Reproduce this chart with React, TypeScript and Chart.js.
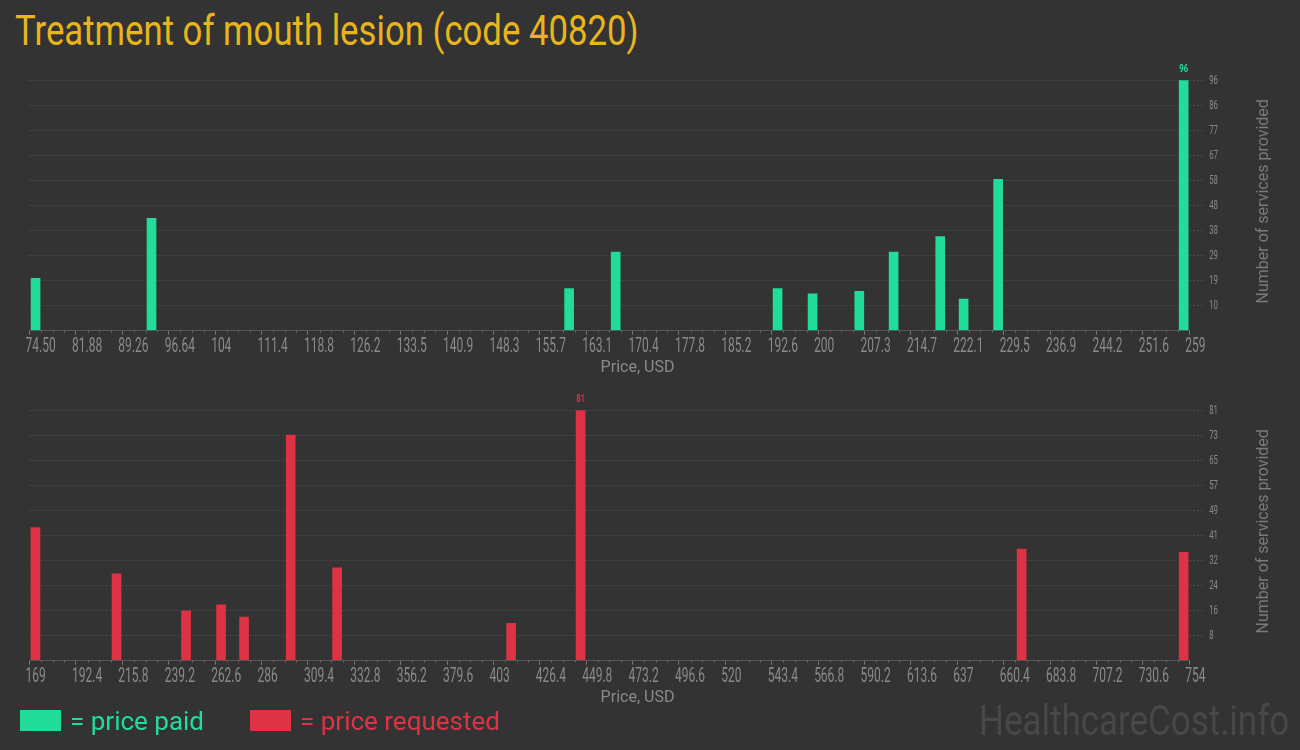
import React, { useEffect, useRef } from "react";
import { Chart, registerables } from "chart.js";

Chart.register(...registerables);

// ---------- data ----------
const paidPrices = [75.45, 93.9, 160.34, 167.75, 193.51, 199.08, 206.51, 211.97, 219.39, 223.11, 228.6, 258.12];
const paidCounts = [20, 43, 16, 30, 16, 14, 15, 30, 36, 12, 58, 96];

const requestedPrices = [171.95, 212.87, 247.93, 265.59, 277.19, 300.71, 324.12, 411.91, 446.97, 669.47, 751.2];
const requestedCounts = [43, 28, 16, 18, 14, 73, 30, 12, 81, 36, 35];

const paidXTickLabels = [
  "74.50", "81.88", "89.26", "96.64", "104", "111.4", "118.8", "126.2", "133.5", "140.9",
  "148.3", "155.7", "163.1", "170.4", "177.8", "185.2", "192.6", "200", "207.3", "214.7",
  "222.1", "229.5", "236.9", "244.2", "251.6", "259",
];
const requestedXTickLabels = [
  "169", "192.4", "215.8", "239.2", "262.6", "286", "309.4", "332.8", "356.2", "379.6",
  "403", "426.4", "449.8", "473.2", "496.6", "520", "543.4", "566.8", "590.2", "613.6",
  "637", "660.4", "683.8", "707.2", "730.6", "754",
];
const paidYTickLabels = ["10", "19", "29", "38", "48", "58", "67", "77", "86", "96"];
const requestedYTickLabels = ["8", "16", "24", "32", "41", "49", "57", "65", "73", "81"];

const TITLE = "Treatment of mouth lesion (code 40820)";
const X_TITLE = "Price, USD";
const Y_TITLE = "Number of services provided";
const LEGEND_PAID = "= price paid";
const LEGEND_REQUESTED = "= price requested";
const WATERMARK = "HealthcareCost.info";

// ---------- styles ----------
const BG = "#333333";
const GREEN = "#22dc9a";
const RED = "#dd3344";
const GOLD = "#e8b51d";
const GRID = "#4b4b4b";
const TICK_TEXT = "#8a8a8a";
const AXIS_TITLE = "#7a7a7a";
const FONT = "Roboto, 'Noto Sans', sans-serif";

const W = 1300;
const AREA_LEFT = 29.6;
const AREA_RIGHT = 1189.2;

function drawScaled(
  ctx: CanvasRenderingContext2D,
  text: string,
  x: number,
  y: number,
  font: string,
  sx: number,
  color: string,
  align: CanvasTextAlign
) {
  ctx.save();
  ctx.translate(x, y);
  ctx.scale(sx, 1);
  ctx.font = font;
  ctx.fillStyle = color;
  ctx.textAlign = align;
  ctx.textBaseline = "alphabetic";
  ctx.fillText(text, 0, 0);
  ctx.restore();
}

type Spec = {
  prices: number[];
  counts: number[];
  xLabels: string[];
  yLabels: string[];
  color: string;
  canvasTop: number;
  canvasH: number;
  areaTop: number; // page coords
  axisY: number; // page coords
};

function makeChart(canvas: HTMLCanvasElement, s: Spec) {
  const xMin = parseFloat(s.xLabels[0]);
  const xMax = parseFloat(s.xLabels[s.xLabels.length - 1]);
  const yMax = parseFloat(s.yLabels[s.yLabels.length - 1]);
  const yStep = yMax / s.yLabels.length;
  const localAreaTop = s.areaTop - s.canvasTop;
  const localAxisY = s.axisY - s.canvasTop;

  const textPlugin = {
    id: "customText",
    afterDraw(chart: any) {
      const ctx: CanvasRenderingContext2D = chart.ctx;
      const xs = chart.scales.x;
      const ys = chart.scales.y;
      const area = chart.chartArea;
      ctx.save();
      // minor ticks
      ctx.strokeStyle = "#666";
      ctx.lineWidth = 1;
      const t = xs.ticks;
      for (let i = 0; i < t.length - 1; i++) {
        const a = xs.getPixelForValue(t[i].value);
        const b = xs.getPixelForValue(t[i + 1].value);
        for (let k = 1; k < 4; k++) {
          const px = Math.round(a + ((b - a) * k) / 4) + 0.5;
          ctx.beginPath();
          ctx.moveTo(px, Math.round(area.bottom));
          ctx.lineTo(px, Math.round(area.bottom) + 2.5);
          ctx.stroke();
        }
      }
      // x tick labels
      t.forEach((tk: any, i: number) => {
        const px = xs.getPixelForValue(tk.value);
        drawScaled(ctx, s.xLabels[i], px - 4, area.bottom + 22, `20px ${FONT}`, 0.6, TICK_TEXT, "left");
      });
      // y tick labels
      ys.ticks.forEach((tk: any, i: number) => {
        if (i === 0) return;
        const py = ys.getPixelForValue(tk.value);
        drawScaled(ctx, s.yLabels[i - 1], area.right + 20, py + 3.8, `12px ${FONT}`, 0.65, TICK_TEXT, "left");
      });
      // x title
      ctx.font = `16px ${FONT}`;
      ctx.fillStyle = TICK_TEXT;
      ctx.textAlign = "center";
      ctx.textBaseline = "alphabetic";
      ctx.fillText(X_TITLE, 637.5, area.bottom + 42);
      // y title
      ctx.save();
      ctx.translate(1268, (area.top + area.bottom) / 2 - 4);
      ctx.rotate(-Math.PI / 2);
      ctx.font = `16px ${FONT}`;
      ctx.fillStyle = AXIS_TITLE;
      ctx.textAlign = "center";
      ctx.textBaseline = "alphabetic";
      ctx.fillText(Y_TITLE, 0, 0);
      ctx.restore();
      // max value label
      let mi = 0;
      s.counts.forEach((c, i) => {
        if (c > s.counts[mi]) mi = i;
      });
      const bx = xs.getPixelForValue(s.prices[mi]);
      const by = ys.getPixelForValue(s.counts[mi]);
      drawScaled(ctx, String(s.counts[mi]), bx, by - 8.6, `bold 11px ${FONT}`, 0.7, s.color, "center");
      ctx.restore();
    },
  };

  return new Chart(canvas, {
    type: "bar",
    data: {
      datasets: [
        {
          data: s.prices.map((p, i) => ({ x: p, y: s.counts[i] })),
          backgroundColor: s.color,
          borderWidth: 0,
          barThickness: 9,
        },
      ],
    },
    options: {
      responsive: false,
      animation: false,
      events: [],
      layout: { padding: { left: AREA_LEFT, top: localAreaTop, right: 0, bottom: 0 } },
      plugins: { legend: { display: false }, tooltip: { enabled: false } },
      scales: {
        x: {
          type: "linear",
          position: "bottom",
          min: xMin,
          max: xMax,
          offset: false,
          afterBuildTicks: (sc: any) => {
            sc.ticks = s.xLabels.map((_, i) => ({
              value: xMin + ((xMax - xMin) * i) / (s.xLabels.length - 1),
            }));
          },
          afterFit: (sc: any) => {
            sc.height = s.canvasH - localAxisY;
          },
          ticks: { display: false, autoSkip: false },
          grid: {
            drawOnChartArea: false,
            drawTicks: true,
            tickLength: 4.5,
            tickColor: "#777",
            offset: false,
          },
          border: { display: true, color: "#555", width: 1 },
        },
        y: {
          type: "linear",
          position: "right",
          min: 0,
          max: yMax,
          afterBuildTicks: (sc: any) => {
            sc.ticks = [0, ...s.yLabels.map((_, i) => yStep * (i + 1))].map((v) => ({ value: v }));
          },
          afterFit: (sc: any) => {
            sc.width = W - AREA_RIGHT;
          },
          ticks: { display: false },
          grid: {
            color: (c: any) => (c.tick && c.tick.value === 0 ? "rgba(0,0,0,0)" : GRID),
            tickColor: (c: any) => (c.tick && c.tick.value === 0 ? "rgba(0,0,0,0)" : GRID),
            drawTicks: true,
            tickLength: 16,
            tickBorderDash: [2, 2],
          },
          border: { display: false, dash: [2, 2] },
        },
      },
    } as any,
    plugins: [textPlugin],
  });
}

function ChartCanvas({ spec }: { spec: Spec }) {
  const ref = useRef<HTMLCanvasElement | null>(null);
  useEffect(() => {
    if (!ref.current) return;
    const ch = makeChart(ref.current, spec);
    return () => ch.destroy();
  }, []);
  return (
    <canvas
      ref={ref}
      width={W}
      height={spec.canvasH}
      style={{ position: "absolute", left: 0, top: spec.canvasTop, width: W, height: spec.canvasH }}
    />
  );
}

const topSpec: Spec = {
  prices: paidPrices,
  counts: paidCounts,
  xLabels: paidXTickLabels,
  yLabels: paidYTickLabels,
  color: GREEN,
  canvasTop: 0,
  canvasH: 390,
  areaTop: 80.3,
  axisY: 330.3,
};

const bottomSpec: Spec = {
  prices: requestedPrices,
  counts: requestedCounts,
  xLabels: requestedXTickLabels,
  yLabels: requestedYTickLabels,
  color: RED,
  canvasTop: 385,
  canvasH: 335,
  areaTop: 410.3,
  axisY: 660.3,
};

export default function App() {
  return (
    <div
      style={{
        position: "fixed",
        left: 0,
        top: 0,
        width: W,
        height: 750,
        background: BG,
        overflow: "hidden",
        fontFamily: FONT,
      }}
    >
      <div
        style={{
          position: "absolute",
          left: 15,
          top: 9.7,
          fontSize: 42,
          lineHeight: "42px",
          color: GOLD,
          whiteSpace: "nowrap",
          transform: "scaleX(0.827)",
          transformOrigin: "left top",
        }}
      >
        {TITLE}
      </div>
      <ChartCanvas spec={topSpec} />
      <ChartCanvas spec={bottomSpec} />
      <div style={{ position: "absolute", left: 20, top: 710, width: 41, height: 21, background: GREEN }} />
      <div
        style={{
          position: "absolute",
          left: 70,
          top: 707.5,
          fontSize: 26,
          lineHeight: "26px",
          color: GREEN,
          whiteSpace: "nowrap",
        }}
      >
        {LEGEND_PAID}
      </div>
      <div style={{ position: "absolute", left: 250, top: 710, width: 41, height: 21, background: RED }} />
      <div
        style={{
          position: "absolute",
          left: 300,
          top: 707.5,
          fontSize: 26,
          lineHeight: "26px",
          color: RED,
          whiteSpace: "nowrap",
        }}
      >
        {LEGEND_REQUESTED}
      </div>
      <div
        style={{
          position: "absolute",
          left: 979,
          top: 700.3,
          fontSize: 42,
          lineHeight: "42px",
          color: "#484848",
          whiteSpace: "nowrap",
          transform: "scaleX(0.832)",
          transformOrigin: "left top",
        }}
      >
        {WATERMARK}
      </div>
    </div>
  );
}
